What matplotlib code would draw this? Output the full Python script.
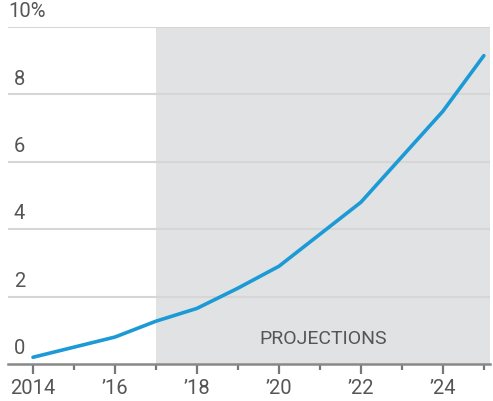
import matplotlib.pyplot as plt
import matplotlib.transforms as mtransforms

years = [2014, 2015, 2016, 2017, 2018, 2019, 2020, 2021, 2022, 2023, 2024, 2025]
values = [0.2, 0.5, 0.8, 1.27, 1.65, 2.25, 2.9, 3.85, 4.8, 6.15, 7.5, 9.15]
major_years = [2014, 2016, 2018, 2020, 2022, 2024]
major_labels = ["2014", "\u201916", "\u201918", "\u201920", "\u201922", "\u201924"]
minor_years = [2015, 2017, 2019, 2021, 2023, 2025]
y_levels = [0, 2, 4, 6, 8, 10]
y_labels = ["0", "2", "4", "6", "8", "10%"]
projection_start = 2017

plt.rcParams["font.family"] = ["Roboto", "DejaVu Sans"]
text_color = "#555555"

fig = plt.figure(figsize=(4.93, 4.02), dpi=100)
ax = fig.add_axes([8 / 493, 37 / 402, 482 / 493, 337 / 402])

ax.set_xlim(2013.39, 2025.15)
ax.set_ylim(0, 10)

# projection shading
ax.axvspan(projection_start, 2025.15, color="#e1e2e4", zorder=0, lw=0)

for lvl in y_levels[1:]:
    ax.axhline(lvl, color="#d6d6d6", lw=1.5, zorder=1)

ax.plot(years, values, color="#1b9ad6", lw=2.6, zorder=3, solid_capstyle="round")

# y labels sit above gridlines at the left
trans = mtransforms.blended_transform_factory(fig.transFigure, ax.transData)
for lvl, lab in zip(y_levels, y_labels):
    xpos = 8 / 493 if lab == "10%" else 14 / 493
    ax.text(xpos, lvl + 0.2, lab, transform=trans, ha="left", va="bottom",
            fontsize=14.5, color=text_color)

ax.text(2021.09, 0.5, "PROJECTIONS", fontsize=14, color=text_color,
        ha="center", va="bottom", zorder=4)

for side in ["left", "right", "top"]:
    ax.spines[side].set_visible(False)
ax.spines["bottom"].set_color("#888888")
ax.spines["bottom"].set_linewidth(1.8)
ax.spines["bottom"].set_zorder(5)

ax.set_yticks([])
ax.set_xticks(major_years)
ax.set_xticklabels(major_labels, fontsize=14.5, color=text_color)
ax.set_xticks(minor_years, minor=True)
ax.tick_params(axis="x", which="major", length=7, width=1.6, color="#777777", pad=3)
ax.tick_params(axis="x", which="minor", length=4, width=1.6, color="#777777")

fig.savefig("out.png", dpi=100)
